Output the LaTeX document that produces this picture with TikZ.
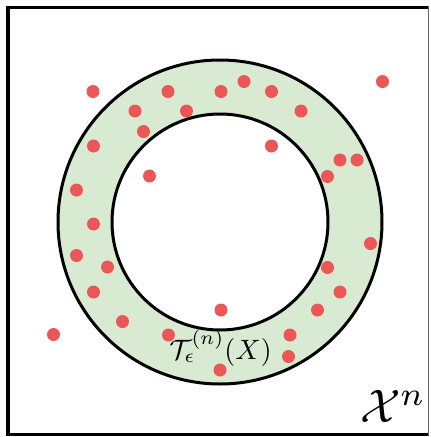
\documentclass[tikz,border=0pt]{standalone}
\usepackage{graphicx}
\definecolor{ringfill}{RGB}{217,234,211}
\definecolor{dotred}{RGB}{235,87,87}
\tikzset{
  dot/.style={fill=dotred},
  ringline/.style={draw=black, line width=3pt},
}
\begin{document}
\begin{tikzpicture}[x=1pt,y=-1pt]
\useasboundingbox (0,0) rectangle (431,437);
\fill[white] (0,0) rectangle (431,437);
% frame
\draw[line width=3.5pt] (428.5,7.5) -- (8,7.5) -- (8,434.5) -- (428.5,434.5);
\draw[line width=1pt, black!60] (428.5,6) -- (428.5,436);
% ring
\coordinate (c) at (220,222);
\fill[ringfill, even odd rule] (c) circle[radius=162pt] (c) circle[radius=108pt];
\draw[ringline] (c) circle[radius=162pt];
\draw[ringline] (c) circle[radius=108pt];
% dots
\foreach \x/\y in {93/91.5, 168/91.5, 221/91.5, 244/81.5, 271.5/91.5, 382.5/81.5,
  135/111, 186.5/111, 301/111, 143.5/131.5, 93.5/146, 271.5/146, 340/160, 357/160,
  327.5/176.5, 149.5/176, 76.5/190, 93.5/224, 76.5/255.5, 107.5/267, 370.5/243.5,
  327.5/267.5, 93.5/292, 340/292, 317.5/310, 122.5/321.5, 221/310, 53.5/334.5,
  168.5/335, 290/335, 288.5/356.5, 220/370}
  \fill[dot] (\x,\y) circle[radius=6.5pt];
% labels
\node[anchor=base, inner sep=0pt] (T) at (220.5,359) {\scalebox{2.8}{$\mathcal{T}_\epsilon^{(n)}(X)$}};
\node[inner sep=0pt] (Xn) at (393,406) {\scalebox{4.7}{$\mathcal{X}^n$}};
\end{tikzpicture}
\end{document}
